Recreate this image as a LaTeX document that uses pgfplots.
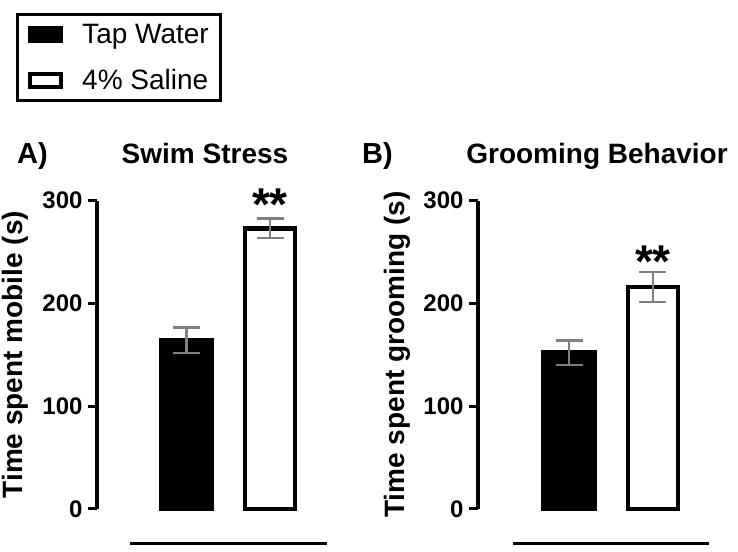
\documentclass[border=0pt]{standalone}
\usepackage{pgfplots}
\pgfplotsset{compat=1.18}
\usepackage{fontspec}
\setmainfont{Liberation Sans}

\pgfplotsset{
  panel/.style={
    scale only axis, anchor=south west, height=308.3pt,
    ymin=0, ymax=300, xmin=0,
    axis x line=none, axis y line=left,
    axis line style={-, line width=3.5pt},
    ytick={0,100,200,300}, tick align=outside, major tick length=9pt,
    ytick style={line width=3pt, black},
    /pgf/number format/assume math mode=true,
    yticklabel style={font=\fontsize{24}{24}\selectfont\bfseries, xshift=-2pt},
    every axis y label/.style={at={(axis description cs:0,0.5)}, rotate=90,
      anchor=center, font=\fontsize{28}{28}\selectfont\bfseries},
    clip=false,
  },
  sem/.style={error bars/.cd, y dir=both, y explicit,
    error bar style={color=gray, line width=2.5pt},
    error mark options={rotate=90, gray, line width=2.5pt, mark size=13.5pt}},
  barA/.style={ybar, bar shift=0pt, bar width=51, fill=black, draw=black, line width=4.5pt, sem},
  barB/.style={ybar, bar shift=0pt, bar width=50, fill=white, draw=black, line width=4.5pt, sem},
}

\begin{document}
\begin{tikzpicture}[x=1pt,y=1pt]
\useasboundingbox (0,0) rectangle (738,551);

% A) swim stress
\begin{axis}[panel, at={(97,41)}, width=230pt, xmax=230,
  ylabel={Time spent mobile (s)}, every axis y label/.append style={yshift=82pt},
  legend style={at={(axis description cs:-0.35,1.607)}, anchor=north west,
    draw=black, line width=3pt, font=\fontsize{28}{34}\selectfont,
    inner xsep=10pt, inner ysep=7pt, row sep=21pt},
  legend cell align=left,
  legend image code/.code={\draw[#1] (0pt,-6.5pt) rectangle (31pt,6.5pt); \path[draw=none, fill=none] (0pt,0pt) -- (50pt,0pt);},
]
\addplot[barA] coordinates {(89.5,164) +- (0,12.5)};
\addlegendentry{Tap Water}
\addplot[barB] coordinates {(173,273) +- (0,9.5)};
\addlegendentry{4\% Saline}
\node[font=\fontsize{46}{46}\selectfont\bfseries, anchor=base] at (axis cs:173,281) {**};
\draw[line width=3pt] (axis cs:33,-34) -- (axis cs:230,-34);
\end{axis}

% B) grooming
\begin{axis}[panel, at={(478,41)}, width=232pt, xmax=232,
  ylabel={Time spent grooming (s)}, every axis y label/.append style={yshift=81pt}]
\addplot[barA] coordinates {(91.2,152) +- (0,12)};
\addplot[barB] coordinates {(174.9,216) +- (0,14.5)};
\node[font=\fontsize{46}{46}\selectfont\bfseries, anchor=base] at (axis cs:174.9,225) {**};
\draw[line width=3pt] (axis cs:34.7,-34) -- (axis cs:231.3,-34);
\end{axis}

\node[anchor=base west, inner sep=0, font=\fontsize{29}{29}\selectfont\bfseries] at (17,387) {A)};
\node[anchor=base, inner sep=0, font=\fontsize{28}{28}\selectfont\bfseries] at (205,387) {Swim Stress};
\node[anchor=base west, inner sep=0, font=\fontsize{29}{29}\selectfont\bfseries] at (362,387) {B)};
\node[anchor=base, inner sep=0, font=\fontsize{28}{28}\selectfont\bfseries] at (597,387) {Grooming Behavior};
\end{tikzpicture}
\end{document}
